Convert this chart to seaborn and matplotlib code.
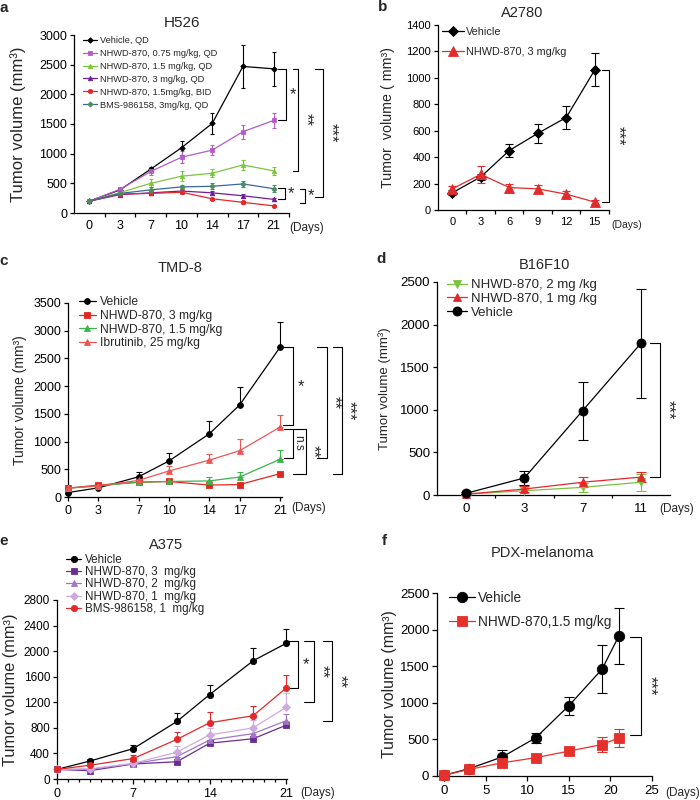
import numpy as np
import matplotlib
matplotlib.use("Agg")
import matplotlib.pyplot as plt
from matplotlib.transforms import blended_transform_factory
import seaborn as sns

# ---------------- data ----------------
# a  H526 (categorical days)
days_a = [0, 3, 7, 10, 14, 17, 21]
a_vehicle = [200, 390, 740, 1100, 1510, 2470, 2430]
a_vehicle_err = [15, 30, 40, 120, 180, 360, 290]
a_075 = [200, 400, 700, 940, 1060, 1370, 1560]
a_075_err = [15, 30, 60, 100, 90, 120, 120]
a_15 = [200, 345, 500, 620, 670, 810, 710]
a_15_err = [15, 30, 70, 80, 70, 80, 70]
a_3 = [200, 310, 340, 370, 340, 290, 230]
a_3_err = [15, 20, 30, 30, 30, 30, 20]
a_bid = [200, 320, 330, 350, 240, 180, 120]
a_bid_err = [15, 20, 30, 30, 20, 20, 20]
a_bms = [200, 330, 390, 440, 450, 490, 410]
a_bms_err = [15, 30, 40, 40, 50, 50, 60]

# b  A2780
days_b = [0, 3, 6, 9, 12, 15]
b_vehicle = [130, 250, 450, 580, 700, 1060]
b_vehicle_err = [20, 20, 50, 70, 90, 125]
b_nhwd = [160, 270, 170, 160, 120, 60]
b_nhwd_err = [25, 65, 30, 30, 25, 15]

# c  TMD-8
days_c = [0, 3, 7, 10, 14, 17, 21]
c_vehicle = [80, 165, 365, 650, 1140, 1660, 2700]
c_vehicle_err = [0, 20, 95, 135, 230, 320, 450]
c_nh3 = [160, 215, 265, 280, 215, 225, 420]
c_nh3_err = [0, 15, 20, 20, 20, 20, 20]
c_nh15 = [160, 200, 270, 280, 290, 360, 680]
c_nh15_err = [0, 10, 20, 20, 75, 100, 175]
c_ibr = [160, 200, 300, 470, 665, 835, 1260]
c_ibr_err = [0, 15, 40, 90, 110, 210, 220]

# d  B16F10 (categorical days)
days_d = [0, 3, 7, 11]
d_vehicle = [20, 200, 990, 1780]
d_vehicle_err = [10, 85, 340, 640]
d_1mg = [10, 70, 150, 210]
d_1mg_err = [5, 30, 60, 60]
d_2mg = [10, 50, 90, 150]
d_2mg_err = [5, 20, 50, 100]

# e  A375
days_e = [0, 3, 7, 11, 14, 18, 21]
e_vehicle = [150, 280, 475, 900, 1320, 1850, 2120]
e_vehicle_err = [0, 30, 50, 130, 150, 200, 230]
e_3mg = [150, 130, 235, 270, 560, 630, 840]
e_3mg_err = [0, 10, 20, 30, 40, 40, 40]
e_2mg = [150, 150, 240, 350, 610, 710, 910]
e_2mg_err = [0, 10, 20, 60, 60, 80, 110]
e_1mg = [150, 160, 245, 420, 690, 800, 1120]
e_1mg_err = [0, 10, 30, 100, 100, 120, 220]
e_bms = [150, 215, 320, 620, 880, 990, 1420]
e_bms_err = [0, 20, 60, 120, 170, 150, 210]

# f  PDX-melanoma
days_f = [0, 3, 7, 11, 15, 19, 21]
f_vehicle = [10, 100, 260, 520, 960, 1460, 1910]
f_vehicle_err = [10, 30, 100, 70, 120, 330, 380]
f_nhwd = [10, 90, 180, 250, 340, 430, 520]
f_nhwd_err = [10, 20, 40, 30, 40, 100, 120]

# ---------------- style ----------------
sns.set_style("ticks")
plt.rcParams['font.family'] = ['Liberation Sans', 'DejaVu Sans']
plt.rcParams['axes.linewidth'] = 0.9
plt.rcParams['xtick.major.width'] = 0.9
plt.rcParams['ytick.major.width'] = 0.9
plt.rcParams['xtick.minor.width'] = 0.9
plt.rcParams['xtick.color'] = 'black'
plt.rcParams['ytick.color'] = 'black'
plt.rcParams['axes.edgecolor'] = 'black'

W, H = 700, 800
fig = plt.figure(figsize=(7, 8), dpi=100)
fig.patch.set_facecolor('white')

STAR = 12


def add_ax(left, top, right, bottom):
    ax = fig.add_axes([left / W, 1 - bottom / H, (right - left) / W, (bottom - top) / H])
    sns.despine(ax=ax)
    ax.set_facecolor('white')
    return ax


def series(ax, x, y, err, color, marker, ms, label, upper=False, cap=2.0,
           mfc=None, lw=0.9, elw=0.8):
    mc = mfc if mfc is not None else color
    sns.lineplot(x=x, y=y, ax=ax, color=color, marker=marker, markersize=ms,
                 markeredgecolor=mc, markerfacecolor=mc, markeredgewidth=0.6,
                 linewidth=lw, label=label, errorbar=None, zorder=4, clip_on=False)
    err = np.asarray(err, dtype=float)
    yerr = [np.zeros_like(err), err] if upper else err
    ax.errorbar(x, y, yerr=yerr, fmt='none', ecolor=mc, elinewidth=elw,
                capsize=cap, capthick=elw, zorder=3, clip_on=False)


def bracket(ax, x0, x1, ytop, ybot, text, tx, rot=0, fs=STAR, lw=0.8):
    tr = blended_transform_factory(fig.transFigure, ax.transData)
    X0, X1 = x0 / W, x1 / W
    ax.plot([X0, X1, X1, X0], [ytop, ytop, ybot, ybot], transform=tr,
            color='black', lw=lw, clip_on=False)
    ax.text(tx / W, (ytop + ybot) / 2, text, transform=tr, rotation=rot,
            ha='center', va='center', fontsize=fs, clip_on=False)


def legend(ax, x, y, fs, ls, hl, htp=0.3, order=None):
    h, l = ax.get_legend_handles_labels()
    if order is not None:
        h = [h[i] for i in order]
        l = [l[i] for i in order]
    ax.legend(h, l, loc='upper left', bbox_to_anchor=(x / W, 1 - y / H),
              bbox_transform=fig.transFigure, frameon=False, fontsize=fs,
              labelspacing=ls, handlelength=hl, handletextpad=htp,
              borderpad=0, borderaxespad=0)


def ylabel(ax, text, fs, xpx, left, right):
    ax.set_ylabel(text, fontsize=fs, va='center')
    ax.yaxis.set_label_coords((xpx - left) / (right - left), 0.5)


def ftext(x, y, s, **kw):
    fig.text(x / W, 1 - y / H, s, **kw)


YL = "Tumor volume (mm\u00b3)"

# ---------------- panel a ----------------
L, T, R, B = 74, 35, 289, 213
ax = add_ax(L, T, R, B)
pa = np.arange(len(days_a))
series(ax, pa, a_vehicle, a_vehicle_err, 'black', 'D', 2.8, 'Vehicle, QD', cap=1.5)
series(ax, pa, a_075, a_075_err, '#b45cc8', 's', 3, 'NHWD-870, 0.75 mg/kg, QD', cap=1.5)
series(ax, pa, a_15, a_15_err, '#7cc63f', '^', 3.2, 'NHWD-870, 1.5 mg/kg, QD', cap=1.5)
series(ax, pa, a_3, a_3_err, '#6e1f9a', '^', 3.2, 'NHWD-870, 3 mg/kg, QD', cap=1.5)
series(ax, pa, a_bid, a_bid_err, '#e8262a', 'o', 3, 'NHWD-870, 1.5mg/kg, BID', cap=1.5)
series(ax, pa, a_bms, a_bms_err, '#3b66a0', 'D', 2.6, 'BMS-986158, 3mg/kg, QD', cap=1.5, mfc='#45905a')
ax.set_xlim(-0.5, 6.5)
ax.set_ylim(0, 3000)
ax.set_yticks(np.arange(0, 3001, 500))
ax.set_xticks(pa)
ax.set_xticklabels([str(d) for d in days_a])
ax.set_xticks(np.arange(0.5, 6.6, 1), minor=True)
ax.tick_params(axis='x', which='major', length=0, labelsize=9, pad=5)
ax.tick_params(axis='x', which='minor', length=3)
ax.tick_params(axis='y', length=3, labelsize=9, pad=2)
ylabel(ax, YL, 12, 18, L, R)
legend(ax, 83, 36, 6.7, 0.42, 1.5, 0.3)
bracket(ax, 278, 286, 2430, 1560, '*', 293, 0)
bracket(ax, 293, 298, 2430, 710, '**', 306, -90)
bracket(ax, 315, 323, 2430, 270, '***', 331, -90)
bracket(ax, 278, 285, 420, 230, '*', 291, 0)
bracket(ax, 300, 305, 405, 170, '*', 311, 0)
ftext(182, 23, 'H526', ha='center', va='center', fontsize=11)
ftext(307, 228, '(Days)', ha='center', va='center', fontsize=8.5)
ftext(4, 8, 'a', ha='center', va='center', fontsize=11, fontweight='bold')

# ---------------- panel b ----------------
L, T, R, B = 438, 25, 609, 210
ax = add_ax(L, T, R, B)
series(ax, days_b, b_vehicle, b_vehicle_err, 'black', 'D', 5.5, 'Vehicle', cap=3)
series(ax, days_b, b_nhwd, b_nhwd_err, '#e32b2b', '^', 7, 'NHWD-870, 3 mg/kg', cap=3)
ax.set_xlim(-1.5, 16.5)
ax.set_ylim(0, 1400)
ax.set_yticks(np.arange(0, 1401, 200))
ax.set_xticks(days_b)
ax.set_xticks(np.arange(1.5, 16.6, 3), minor=True)
ax.tick_params(axis='x', which='major', length=0, labelsize=8, pad=5)
ax.tick_params(axis='x', which='minor', length=3)
ax.tick_params(axis='y', length=3, labelsize=8, pad=2)
ylabel(ax, "Tumor  volume ( mm\u00b3)", 10.3, 388, L, R)
legend(ax, 442, 27, 7.8, 0.95, 2.0, 0.2)
bracket(ax, 602, 609, 1060, 60, '***', 618, -90)
ftext(522, 13, 'A2780', ha='center', va='center', fontsize=10.5)
ftext(627, 225, '(Days)', ha='center', va='center', fontsize=7.5)
ftext(383, 7, 'b', ha='center', va='center', fontsize=11, fontweight='bold')

# ---------------- panel c ----------------
L, T, R, B = 68, 303, 282, 497
ax = add_ax(L, T, R, B)
series(ax, days_c, c_vehicle, c_vehicle_err, 'black', 'o', 4.2, 'Vehicle', upper=True, cap=2.5)
series(ax, days_c, c_nh3, c_nh3_err, '#e0281f', 's', 4, 'NHWD-870, 3 mg/kg', upper=True, cap=2.5)
series(ax, days_c, c_nh15, c_nh15_err, '#3cb44a', '^', 4, 'NHWD-870, 1.5 mg/kg', upper=True, cap=2.5)
series(ax, days_c, c_ibr, c_ibr_err, '#f05555', '^', 4, 'Ibrutinib, 25 mg/kg', upper=True, cap=2.5)
ax.set_xlim(0, 21.2)
ax.set_ylim(0, 3500)
ax.set_yticks(np.arange(0, 3501, 500))
ax.set_xticks(days_c)
ax.tick_params(axis='x', length=3, labelsize=9, pad=3)
ax.tick_params(axis='y', length=3, labelsize=9, pad=2)
ylabel(ax, YL, 10, 20, L, R)
legend(ax, 79, 296, 8.7, 0.15, 1.4, 0.3)
bracket(ax, 283, 293, 2700, 1300, '*', 301, 0)
bracket(ax, 284, 293, 1230, 710, 'n.s', 298, -90, 8.5)
bracket(ax, 293, 306, 1230, 420, '**', 313, -90)
bracket(ax, 317, 327, 2700, 710, '**', 334, -90)
bracket(ax, 333, 342, 2700, 420, '***', 349, -90)
ftext(180, 268, 'TMD-8', ha='center', va='center', fontsize=10.5)
ftext(309, 508, '(Days)', ha='center', va='center', fontsize=8.5)
ftext(4, 261, 'c', ha='center', va='center', fontsize=11, fontweight='bold')

# ---------------- panel d ----------------
L, T, R, B = 437, 282, 670, 495
ax = add_ax(L, T, R, B)
pd_ = np.arange(len(days_d))
series(ax, pd_, d_2mg, d_2mg_err, '#7cc242', 'v', 5.5, 'NHWD-870, 2 mg /kg', cap=3.5)
series(ax, pd_, d_1mg, d_1mg_err, '#e8262a', '^', 5.5, 'NHWD-870, 1 mg /kg', cap=3.5)
series(ax, pd_, d_vehicle, d_vehicle_err, 'black', 'o', 6.5, 'Vehicle', cap=3.5)
ax.set_xlim(-0.5, 3.5)
ax.set_ylim(0, 2500)
ax.set_yticks(np.arange(0, 2501, 500))
ax.set_xticks(pd_)
ax.set_xticklabels([str(d) for d in days_d])
ax.set_xticks([0.5, 1.5, 2.5], minor=True)
ax.tick_params(axis='x', which='major', length=0, labelsize=9.5, pad=6)
ax.tick_params(axis='x', which='minor', length=2)
ax.tick_params(axis='y', length=3, labelsize=9.5, pad=2)
ylabel(ax, YL, 9.5, 385, L, R)
legend(ax, 447, 279, 9.5, 0.12, 1.5, 0.3)
bracket(ax, 650, 660, 1780, 210, '***', 668, -90)
ftext(544, 265, 'B16F10', ha='center', va='center', fontsize=10.5)
ftext(677, 509, '(Days)', ha='center', va='center', fontsize=8.5)
ftext(381, 259, 'd', ha='center', va='center', fontsize=11, fontweight='bold')

# ---------------- panel e ----------------
L, T, R, B = 57, 600, 287, 779
ax = add_ax(L, T, R, B)
series(ax, days_e, e_vehicle, e_vehicle_err, 'black', 'o', 4.5, 'Vehicle', upper=True, cap=2.5)
series(ax, days_e, e_3mg, e_3mg_err, '#6a2d92', 's', 4.3, 'NHWD-870, 3  mg/kg', upper=True, cap=2.5)
series(ax, days_e, e_2mg, e_2mg_err, '#a275c6', '^', 4.3, 'NHWD-870, 2  mg/kg', upper=True, cap=2.5)
series(ax, days_e, e_1mg, e_1mg_err, '#cfaadf', 'D', 3.8, 'NHWD-870, 1  mg/kg', upper=True, cap=2.5)
series(ax, days_e, e_bms, e_bms_err, '#e3282a', 'o', 4.5, 'BMS-986158, 1  mg/kg', upper=True, cap=2.5)
ax.set_xlim(0, 21.1)
ax.set_ylim(0, 2800)
ax.set_yticks(np.arange(0, 2801, 400))
ax.set_xticks([0, 7, 14, 21])
ax.set_xticks(np.arange(0, 22, 1), minor=True)
ax.tick_params(axis='x', which='major', length=3.5, labelsize=9, pad=3)
ax.tick_params(axis='x', which='minor', length=2)
ax.tick_params(axis='y', length=3, labelsize=8.5, pad=2)
ylabel(ax, YL, 11.8, 11, L, R)
legend(ax, 66, 554, 8.4, 0.02, 1.3, 0.3)
bracket(ax, 288, 298, 2160, 1430, '*', 306, 0)
bracket(ax, 304, 314, 2160, 1200, '**', 322, -90)
bracket(ax, 323, 332, 2160, 900, '**', 340, -90)
ftext(166, 545, 'A375', ha='center', va='center', fontsize=10.5)
ftext(318, 793, '(Days)', ha='center', va='center', fontsize=8.5)
ftext(4, 541, 'e', ha='center', va='center', fontsize=11, fontweight='bold')

# ---------------- panel f ----------------
L, T, R, B = 437, 593, 652, 776
ax = add_ax(L, T, R, B)
series(ax, days_f, f_vehicle, f_vehicle_err, 'black', 'o', 7.5, 'Vehicle', cap=3.5)
series(ax, days_f, f_nhwd, f_nhwd_err, '#e5302b', 's', 7, 'NHWD-870,1.5 mg/kg', cap=3.5)
ax.set_xlim(-0.85, 25)
ax.set_ylim(0, 2500)
ax.set_yticks(np.arange(0, 2501, 500))
ax.set_xticks(np.arange(0, 26, 5))
ax.tick_params(axis='x', length=3.5, labelsize=9.5, pad=3)
ax.tick_params(axis='y', length=3.5, labelsize=9.5, pad=2)
ylabel(ax, YL, 11.4, 389, L, R)
legend(ax, 449, 591, 9.8, 0.7, 1.9, 0.2)
bracket(ax, 630, 641, 1900, 560, '***', 650, -90)
ftext(543, 553, 'PDX-melanoma', ha='center', va='center', fontsize=10.5)
ftext(683, 793, '(Days)', ha='center', va='center', fontsize=8.5)
ftext(384, 541, 'f', ha='center', va='center', fontsize=11, fontweight='bold')

fig.savefig('out.png', dpi=100, facecolor='white')
